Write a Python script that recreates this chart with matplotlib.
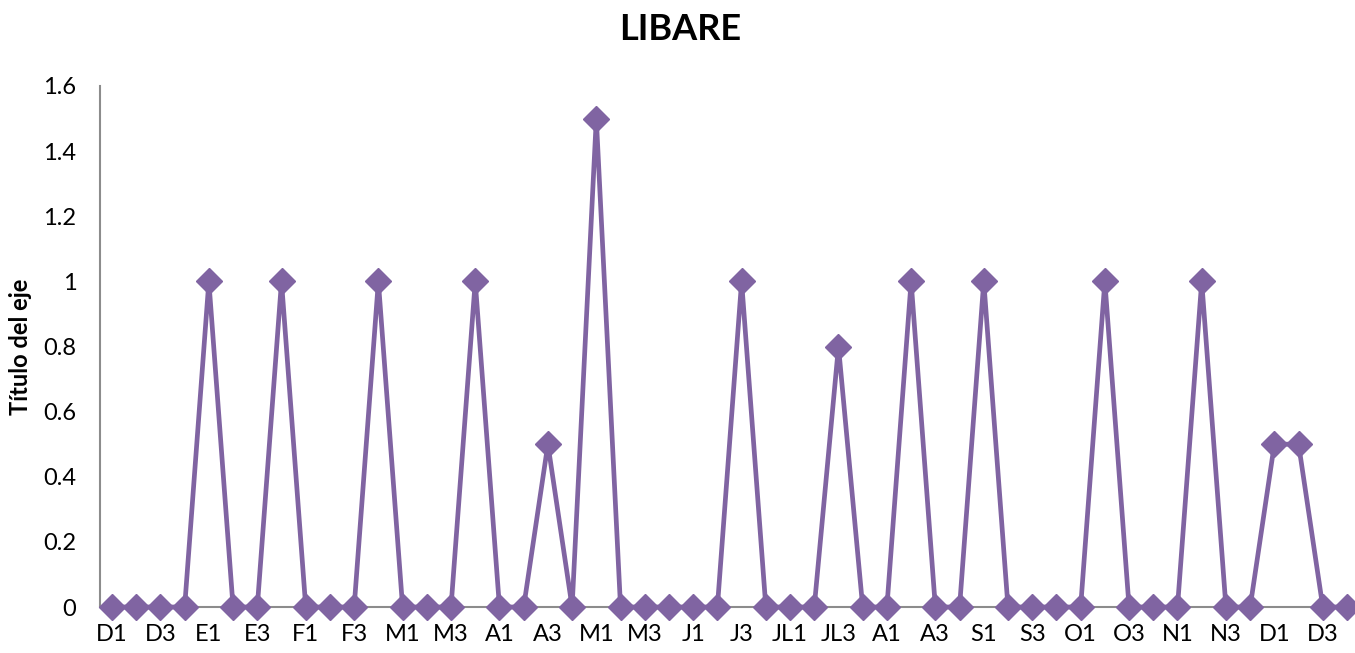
import matplotlib
matplotlib.use("Agg")
import matplotlib.pyplot as plt

# Weekly categories: month initial + week number, Dec through Dec
months = ["D", "E", "F", "M", "A", "M", "J", "JL", "A", "S", "O", "N", "D"]
weeks = [1, 2, 3, 4]
categories = [f"{m}{w}" for m in months for w in weeks]

values = [
    0, 0, 0, 0,        # D
    1, 0, 0, 1,        # E
    0, 0, 0, 1,        # F
    0, 0, 0, 1,        # M
    0, 0, 0.5, 0,      # A
    1.5, 0, 0, 0,      # M
    0, 0, 1, 0,        # J
    0, 0, 0.8, 0,      # JL
    0, 1, 0, 0,        # A
    1, 0, 0, 0,        # S
    0, 1, 0, 0,        # O
    0, 1, 0, 0,        # N
    0.5, 0.5, 0, 0,    # D
]

title = "LIBARE"
y_label = "Título del eje"
y_ticks = [0, 0.2, 0.4, 0.6, 0.8, 1, 1.2, 1.4, 1.6]

plt.rcParams["font.family"] = ["Lato", "DejaVu Sans"]

W, H = 1355, 653
fig = plt.figure(figsize=(W / 100, H / 100), dpi=100)
ax = fig.add_axes([100 / W, 1 - 607 / H, (W - 100) / W, (607 - 86) / H])

purple = "#8064A2"
x = list(range(len(categories)))
ax.plot(x, values, color=purple, linewidth=3.4, marker="D", markersize=13,
        markeredgecolor=purple, markerfacecolor=purple, markeredgewidth=1,
        clip_on=False, zorder=3)

ax.set_xlim(-0.4955, 51.33)
ax.set_ylim(0, 1.6)
ax.set_yticks(y_ticks)
ax.set_yticklabels([f"{v:g}" for v in y_ticks], fontsize=17)
ax.set_xticks(x[::2])
ax.set_xticklabels(categories[::2], fontsize=17)
ax.tick_params(axis="both", length=0)
ax.tick_params(axis="y", pad=17)
ax.tick_params(axis="x", pad=12)

for side in ["top", "right"]:
    ax.spines[side].set_visible(False)
for side in ["left", "bottom"]:
    ax.spines[side].set_color("#8c8c8c")
    ax.spines[side].set_linewidth(1.5)
    ax.spines[side].set_zorder(1)

ax.set_ylabel(y_label, fontsize=17, fontweight="bold", va="center")
ax.yaxis.set_label_coords(-79 / (W - 100), 0.5)
fig.text(680 / W, 1 - 30 / H, title, ha="center", va="center",
         fontsize=26, fontweight="bold")

fig.savefig("out.png", dpi=100)
